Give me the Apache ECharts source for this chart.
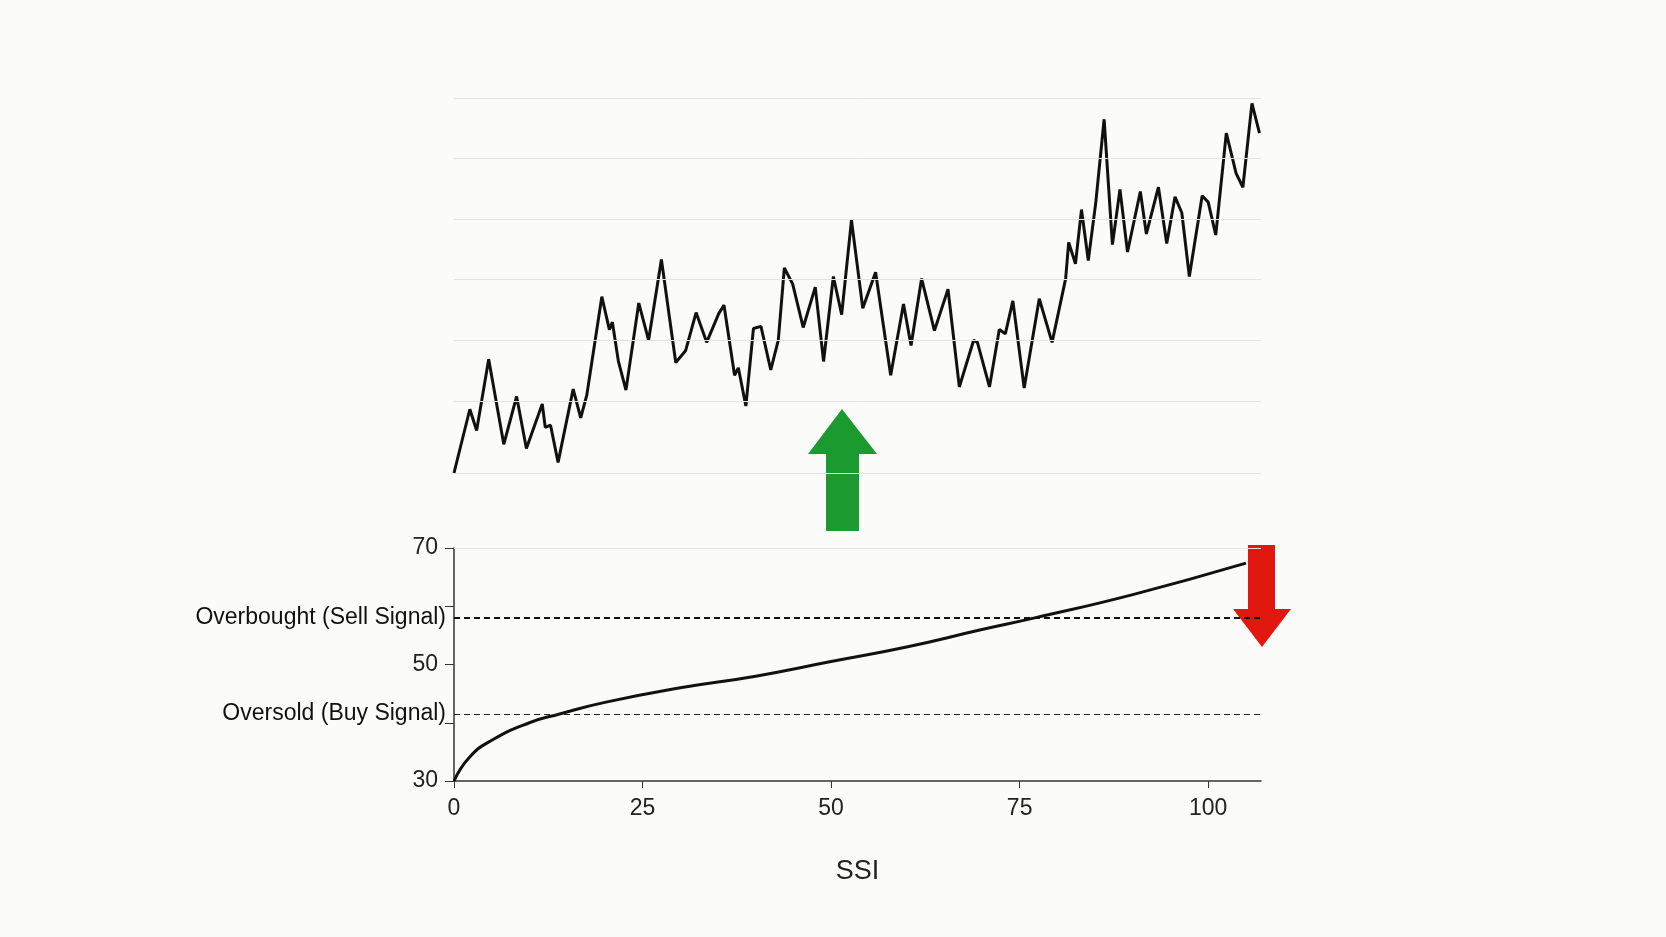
<!DOCTYPE html>
<html lang="en">
<head>
    <meta charset="UTF-8">
    <title></title>
    <script type="text/javascript" src="https://cdn.jsdelivr.net/npm/echarts@6/dist/echarts.min.js"></script>
    <style>html,body{margin:0;background:#fbfcf9;}</style>
</head>
<body>
<div id="main" style="width: 1666px;height: 937px"></div>
</body>
</html>
<script type="text/javascript">
    // price line (top panel), x in SSI units, y in relative units
    var priceX = [0,2.1,3,4.6,6.6,8.3,9.6,11.7,12.1,12.8,13.8,15.8,16.8,17.6,19.6,20.6,21,21.8,22.8,24.5,25.8,27.5,29.4,30.7,32.1,33.5,35.1,35.8,37.2,37.7,38.7,39.7,40.7,42,43,43.8,44.9,46.3,47.9,49,50.3,51.4,52.7,54.2,55.9,57.9,59.6,60.6,62,63.7,65.5,67,68.9,69.4,71,72.3,73.1,74.1,75.6,77.6,79.3,81.1,81.5,82.4,83.2,84.1,85.1,86.2,87.3,88.3,89.3,91,91.8,93.4,94.5,95.6,96.5,97.5,99.2,100,101,102.4,103.7,104.6,105.8,106.8];
    var priceY = [-11,49,29,96,16,61,12,54,32,34,-1,68,41,62,155,124,131,94,67,149,114,190,93,104,140,112,139,147,81,88,52,125,127,86,114,182,167,126,164,94,174,138,227,144,178,81,148,109,172,123,162,70,114,112,70,124,120,151,69,153,112,172,206,186,237,189,244,322,204,256,197,254,214,258,205,249,234,174,250,244,213,309,271,258,337,309];
    var priceGrid = [-11,57,114,171,228,285,342];

    // SSI curve (bottom panel)
    var ssiX = [0,2,5,10,14,20,30,40,50,60,70,77,90,105];
    var ssiY = [30,34,37,40,41.5,43.5,46,48,50.5,53,56,58,62,67.4];
    var overbought = 58;
    var oversold = 41.5;
    var yTicks = [30, 50, 70];

    var chart = echarts.init(document.getElementById('main'));
    var option = {
        backgroundColor: '#fbfcf9',
        animation: false,
        textStyle: {fontFamily: 'Liberation Sans, Arial, sans-serif'},
        grid: [
            {left: 454, right: 405, top: 98, bottom: 464},
            {left: 454, right: 405, top: 548, bottom: 156}
        ],
        xAxis: [
            {gridIndex: 0, type: 'value', min: 0, max: 107, show: false},
            {gridIndex: 1, type: 'value', min: 0, max: 107, interval: 25,
                name: 'SSI', nameLocation: 'middle', nameGap: 77,
                nameTextStyle: {fontSize: 27, color: '#222'},
                axisLine: {lineStyle: {color: '#333', width: 1.5}},
                axisTick: {length: 7, lineStyle: {color: '#333'}},
                axisLabel: {fontSize: 23, color: '#222', margin: 16, showMaxLabel: false},
                splitLine: {show: false}}
        ],
        yAxis: [
            {gridIndex: 0, type: 'value', min: -11, max: 342, show: false},
            {gridIndex: 1, type: 'value', min: 30, max: 70, interval: 10,
                axisLine: {show: true, lineStyle: {color: '#333', width: 1.5}},
                axisTick: {show: true, length: 9, lineStyle: {color: '#333'}},
                axisLabel: {fontSize: 23, color: '#222', margin: 16,
                    formatter: function (v) { return yTicks.indexOf(v) >= 0 ? v : ''; }},
                splitLine: {show: false}}
        ],
        series: [
            {
                type: 'line', xAxisIndex: 0, yAxisIndex: 0, symbol: 'none',
                data: priceX.map(function (x, i) { return [x, priceY[i]]; }),
                lineStyle: {color: '#111', width: 3},
                markLine: {
                    silent: true, symbol: 'none', label: {show: false},
                    lineStyle: {color: '#e2e4e0', type: 'solid', width: 1},
                    data: priceGrid.map(function (v) { return {yAxis: v}; })
                }
            },
            {
                type: 'line', xAxisIndex: 1, yAxisIndex: 1, symbol: 'none', smooth: true,
                data: ssiX.map(function (x, i) { return [x, ssiY[i]]; }),
                lineStyle: {color: '#111', width: 3},
                markLine: {
                    silent: true, symbol: 'none',
                    label: {position: 'start', fontSize: 23, color: '#111', distance: 8},
                    data: [
                        {yAxis: overbought, label: {formatter: 'Overbought (Sell Signal)'},
                            lineStyle: {color: '#111', type: [6, 4], width: 2}},
                        {yAxis: oversold, label: {formatter: 'Oversold (Buy Signal)'},
                            lineStyle: {color: '#222', type: [6, 4], width: 1}},
                        {yAxis: 70, label: {show: false},
                            lineStyle: {color: '#e2e4e0', type: 'solid', width: 1}}
                    ]
                }
            }
        ],
        graphic: [
            {type: 'polygon', shape: {points: [[842, 409], [877, 454], [859, 454], [859, 531], [826, 531], [826, 454], [808, 454]]},
                style: {fill: '#1b9a2f'}},
            {type: 'polygon', shape: {points: [[1248, 545], [1275, 545], [1275, 609], [1291, 609], [1262, 647], [1233, 609], [1248, 609]]},
                style: {fill: '#e0180f'}}
        ]
    };
    chart.setOption(option);
</script>
